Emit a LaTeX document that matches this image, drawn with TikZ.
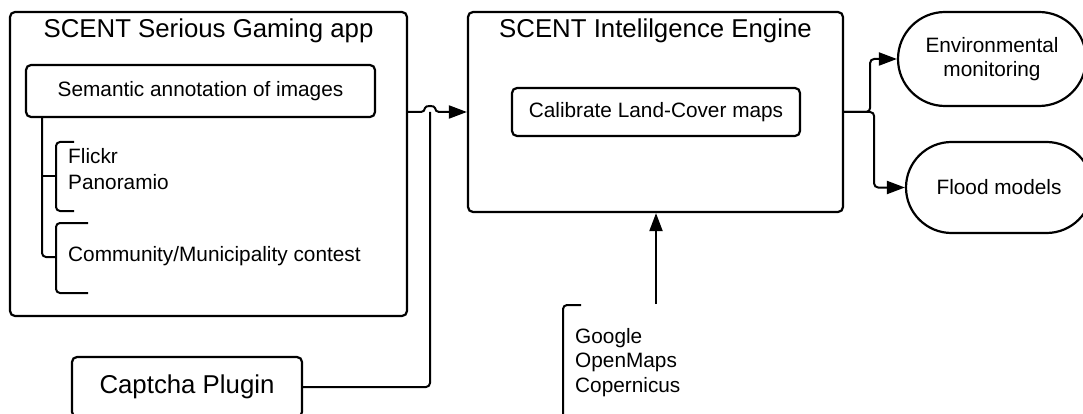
\documentclass[tikz,border=0pt]{standalone}
\usepackage{fontspec}
\setmainfont{Liberation Sans}
\usetikzlibrary{arrows.meta}
\tikzset{
  body/.style={font=\fontsize{20.8}{24.5}\selectfont},
  head/.style={font=\fontsize{25.8}{30}\selectfont},
  box/.style={draw, line width=2.2pt, rounded corners=5pt, inner sep=0pt},
  pill/.style={draw, line width=2.2pt, inner sep=0pt, align=center, body},
  link/.style={line width=2pt, rounded corners=4pt},
  arrow/.style={link, -{Triangle[length=18pt,width=13pt]}},
  txt/.style={body, anchor=base west, inner sep=0pt}
}
\begin{document}
\begin{tikzpicture}[x=1pt,y=-1pt]
\useasboundingbox (0,0) rectangle (1083,414);
\clip (0,0) rectangle (1083,414);

% game app container
\node[box, minimum width=397pt, minimum height=304pt] (app) at (208.5,164) {};
\node[head, anchor=base, inner sep=0pt] (apptitle) at (208.5,38) {SCENT Serious Gaming app};
\node[box, body, minimum width=349pt, minimum height=52pt] (sem) at (200.5,91) {Semantic annotation of images};

% image sources under the annotation box
\draw[link] (42,117) -- (42,257) -- (56,257);
\draw[link] (42,176) -- (56,176);
\draw[link] (74,142) -- (56,142) -- (56,211) -- (74,211);
\draw[link] (88,223) -- (56,223) -- (56,293) -- (88,293);
\node[txt] (flickr) at (68,164) {Flickr};
\node[txt] (pano) at (68,189.3) {Panoramio};
\node[txt] (contest) at (68,261) {Community/Municipality contest};

% intelligence engine
\node[box, minimum width=375pt, minimum height=200pt] (eng) at (655.5,112) {};
\node[head, anchor=base, inner sep=0pt] (engtitle) at (655.5,38) {SCENT Intelilgence Engine};
\node[box, body, minimum width=288pt, minimum height=48pt] (cal) at (656,112) {Calibrate Land-Cover maps};

% captcha plugin
\node[box, head, minimum width=230pt, minimum height=60pt] (cap) at (187,387) {Captcha Plugin};

% outputs
\node[pill, rounded corners=47pt, minimum width=188pt, minimum height=94pt] (env) at (992,59) {Environmental\\monitoring};
\node[pill, rounded corners=45.5pt, minimum width=186pt, minimum height=91pt] (flood) at (999,187.5) {Flood models};

% map data sources
\coordinate (gsrc) at (656,304);
\draw[link] (581,305) -- (563,305) -- (563,430);
\node[txt] (google) at (575,343.3) {Google};
\node[txt] (omaps) at (575,367.7) {OpenMaps};
\node[txt] (coper) at (575,392.3) {Copernicus};

% connectors (line jump where the captcha link meets the arrow)
\coordinate (hop) at (430,112);
\draw[arrow] (app.east |- eng.west) -- ([xshift=-5pt]hop)
  .. controls ([xshift=-5pt,yshift=6.7pt]hop) and ([xshift=5pt,yshift=6.7pt]hop) .. ([xshift=5pt]hop)
  -- (eng.west);
\draw[link] (cap.east) -| (hop);
\draw[arrow] (gsrc) -- (gsrc |- eng.south);
\draw[arrow] (eng.east) -- ++(26,0) |- (env.west);
\draw[arrow] (eng.east) -- ++(30,0) |- (flood.west);
\end{tikzpicture}
\end{document}
